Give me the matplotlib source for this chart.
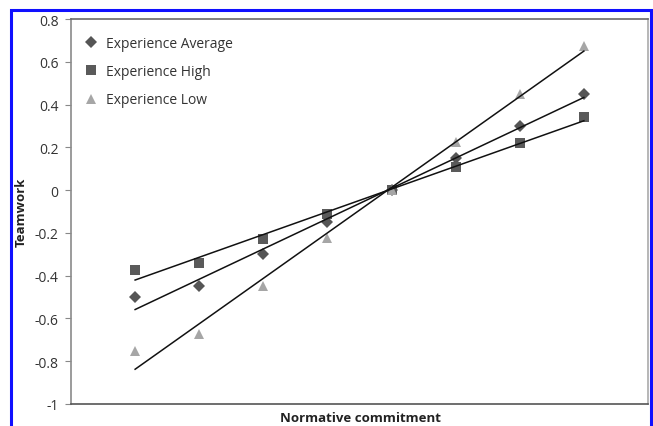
import numpy as np
import matplotlib
matplotlib.use("Agg")
import matplotlib.pyplot as plt
from matplotlib.patches import Rectangle
from matplotlib.lines import Line2D

plt.rcParams['font.family'] = ['Open Sans', 'DejaVu Sans']

x_pos = [1, 2, 3, 4, 5, 6, 7, 8]
exp_average = [-0.5, -0.45, -0.3, -0.15, 0.0, 0.15, 0.3, 0.45]
exp_high = [-0.375, -0.34, -0.23, -0.11, 0.0, 0.11, 0.22, 0.34]
exp_low = [-0.75, -0.675, -0.45, -0.225, 0.0, 0.225, 0.45, 0.675]
series_names = ["Experience Average", "Experience High", "Experience Low"]
y_ticks = [-1, -0.8, -0.6, -0.4, -0.2, 0, 0.2, 0.4, 0.6, 0.8]
y_tick_labels = ["-1", "-0.8", "-0.6", "-0.4", "-0.2", "0", "0.2", "0.4", "0.6", "0.8"]

W, H = 653, 427
fig = plt.figure(figsize=(W / 100, H / 100), dpi=100)
ax = fig.add_axes([71 / W, 1 - 405 / H, (648 - 71) / W, (405 - 20) / H])

styles = [
    dict(marker='D', color='#555555', ms=5.8),
    dict(marker='s', color='#5a5a5a', ms=7.2),
    dict(marker='^', color='#a6a6a6', ms=7.8),
]
handles = []
xs = np.array(x_pos, dtype=float)
for name, ys, st in zip(series_names, [exp_average, exp_high, exp_low], styles):
    ax.plot(xs, ys, linestyle='none', marker=st['marker'], color=st['color'],
            markersize=st['ms'], markeredgewidth=0, zorder=3)
    k, b = np.polyfit(xs, ys, 1)
    ax.plot([xs[0], xs[-1]], [k * xs[0] + b, k * xs[-1] + b], color='#111111', lw=1.1, zorder=4)
    handles.append(Line2D([], [], linestyle='none', marker=st['marker'], color=st['color'],
                          markersize=st['ms'], markeredgewidth=0, label=name))

ax.set_xlim(0, 9)
ax.set_ylim(-1, 0.8)
ax.set_xticks([])
ax.set_yticks(y_ticks)
ax.set_yticklabels(y_tick_labels)
ax.tick_params(axis='y', direction='out', length=4, width=0.8, color='#888888',
               labelsize=10, labelcolor='#333333', pad=5)
ax.spines['left'].set_color('#8a8a8a')
ax.spines['bottom'].set_color('#555555')
ax.spines['top'].set_color('#6a6a6a')
ax.spines['right'].set_color('#aaaaaa')
for s in ax.spines.values():
    s.set_linewidth(1.2)

fig.text(21 / W, 1 - 212 / H, "Teamwork", rotation=90, ha='center', va='center',
         fontsize=9.5, fontweight='bold', color='#222222')
fig.text(360 / W, 1.5 / H, "Normative commitment", ha='center', va='bottom',
         fontsize=9.5, fontweight='bold', color='#222222')

leg = ax.legend(handles=handles, loc='upper left', frameon=False, fontsize=10,
                labelcolor='#333333', handletextpad=0.45, labelspacing=0.95,
                handlelength=1.2, borderaxespad=0.0, bbox_to_anchor=(0.011, 0.97))

fig.patches.append(Rectangle((11 / W, -0.2), (651 - 11) / W, 1 - 11 / H + 0.2,
                             transform=fig.transFigure, fill=False,
                             edgecolor='#1010ff', linewidth=2.2, zorder=10))

fig.savefig("out.png", dpi=100)
